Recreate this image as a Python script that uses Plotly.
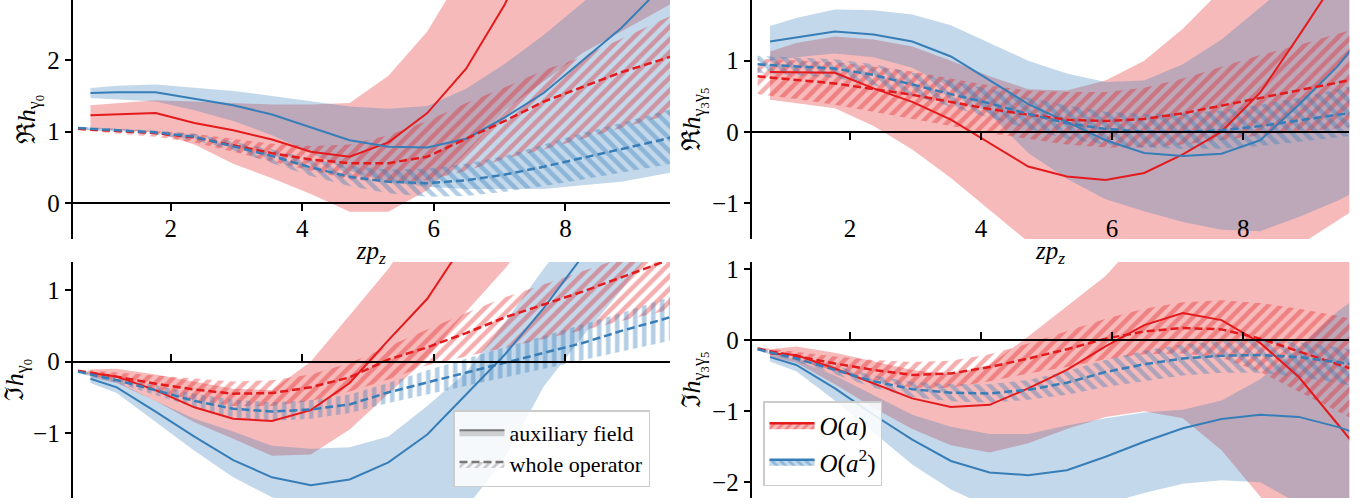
import plotly.graph_objects as go

# ---------------- data ----------------
zpz_aux = [0.78, 1.18, 1.77, 2.36, 2.95, 3.54, 4.13, 4.72, 5.31, 5.90, 6.49, 7.08, 7.67, 8.26, 8.85, 9.44, 10.03]
zpz_op = [0.59, 1.18, 1.77, 2.36, 2.95, 3.54, 4.13, 4.72, 5.31, 5.90, 6.49, 7.08, 7.67, 8.26, 8.85, 9.44, 10.03]
x_ticks = [2, 4, 6, 8]

# Re h_gamma0
re0_red_aux = [1.23, 1.24, 1.26, 1.12, 1.02, 0.89, 0.72, 0.65, 0.85, 1.26, 1.88, 2.78, 3.9, 5.2, 6.5, 8.0, 9.5]
re0_red_aux_hi = [1.37, 1.40, 1.44, 1.42, 1.40, 1.38, 1.38, 1.40, 1.78, 2.40, 3.3, 4.3, 5.5, 7.0, 8.5, 10.0, 12.0]
re0_red_aux_lo = [1.05, 1.02, 0.99, 0.82, 0.55, 0.35, 0.13, -0.12, -0.12, 0.18, 0.70, 1.30, 1.70, 2.10, 2.40, 2.70, 3.00]
re0_blue_aux = [1.54, 1.55, 1.55, 1.46, 1.37, 1.24, 1.06, 0.88, 0.79, 0.78, 0.90, 1.20, 1.54, 2.0, 2.45, 3.0, 3.6]
re0_blue_aux_hi = [1.61, 1.64, 1.66, 1.62, 1.57, 1.50, 1.42, 1.35, 1.32, 1.36, 1.60, 1.95, 2.35, 2.8, 3.3, 3.9, 4.5]
re0_blue_aux_lo = [1.47, 1.45, 1.42, 1.30, 1.15, 0.95, 0.70, 0.45, 0.30, 0.23, 0.20, 0.20, 0.20, 0.25, 0.30, 0.40, 0.50]
re0_red_op = [1.04, 1.01, 0.98, 0.92, 0.81, 0.70, 0.61, 0.56, 0.56, 0.65, 0.90, 1.15, 1.42, 1.63, 1.83, 2.00, 2.18]
re0_red_op_hi = [1.06, 1.04, 1.01, 0.97, 0.90, 0.83, 0.80, 0.82, 0.95, 1.15, 1.40, 1.62, 1.86, 2.05, 2.30, 2.55, 2.80]
re0_red_op_lo = [1.02, 0.98, 0.93, 0.85, 0.72, 0.58, 0.45, 0.33, 0.30, 0.32, 0.45, 0.62, 0.75, 0.90, 1.05, 1.20, 1.40]
re0_blue_op = [1.05, 1.02, 0.99, 0.93, 0.80, 0.66, 0.50, 0.37, 0.30, 0.28, 0.32, 0.40, 0.51, 0.63, 0.75, 0.88, 1.02]
re0_blue_op_hi = [1.07, 1.04, 1.02, 0.97, 0.86, 0.75, 0.62, 0.52, 0.47, 0.48, 0.55, 0.66, 0.82, 0.98, 1.12, 1.27, 1.42]
re0_blue_op_lo = [1.03, 1.00, 0.96, 0.88, 0.74, 0.56, 0.38, 0.24, 0.14, 0.09, 0.10, 0.16, 0.24, 0.33, 0.42, 0.52, 0.62]

# Re h_gamma3gamma5
re35_red_aux = [0.84, 0.84, 0.83, 0.61, 0.42, 0.17, -0.16, -0.49, -0.63, -0.68, -0.58, -0.32, 0.0, 0.55, 1.35, 2.2, 3.0]
re35_red_aux_hi = [1.13, 1.25, 1.34, 1.30, 1.20, 1.00, 0.78, 0.60, 0.58, 0.72, 1.00, 1.45, 2.0, 2.6, 3.2, 3.8, 4.4]
re35_red_aux_lo = [0.45, 0.40, 0.33, 0.08, -0.25, -0.65, -1.10, -1.55, -1.90, -2.10, -2.20, -2.20, -2.10, -1.90, -1.60, -1.25, -0.90]
re35_blue_aux = [1.27, 1.33, 1.41, 1.37, 1.27, 1.06, 0.73, 0.39, 0.14, -0.12, -0.30, -0.34, -0.31, -0.12, 0.38, 0.92, 1.6]
re35_blue_aux_hi = [1.49, 1.60, 1.72, 1.71, 1.65, 1.50, 1.25, 1.00, 0.82, 0.70, 0.72, 0.95, 1.30, 1.75, 2.2, 2.6, 3.0]
re35_blue_aux_lo = [1.00, 1.05, 1.10, 1.05, 0.90, 0.62, 0.25, -0.30, -0.66, -0.95, -1.12, -1.27, -1.38, -1.40, -1.20, -0.97, -0.70]
re35_red_op = [0.78, 0.73, 0.68, 0.60, 0.52, 0.42, 0.32, 0.24, 0.17, 0.15, 0.18, 0.26, 0.37, 0.48, 0.59, 0.70, 0.80]
re35_red_op_hi = [1.03, 1.00, 0.98, 0.92, 0.85, 0.75, 0.65, 0.58, 0.56, 0.56, 0.62, 0.75, 0.92, 1.08, 1.22, 1.38, 1.52]
re35_red_op_lo = [0.53, 0.46, 0.38, 0.28, 0.18, 0.08, -0.02, -0.10, -0.18, -0.22, -0.22, -0.18, -0.12, -0.05, 0.0, 0.05, 0.10]
re35_blue_op = [0.95, 0.92, 0.89, 0.80, 0.66, 0.53, 0.40, 0.25, 0.12, 0.04, 0.0, 0.0, 0.02, 0.08, 0.16, 0.24, 0.30]
re35_blue_op_hi = [1.07, 1.05, 1.02, 0.95, 0.83, 0.72, 0.60, 0.48, 0.37, 0.28, 0.25, 0.26, 0.30, 0.38, 0.48, 0.60, 0.72]
re35_blue_op_lo = [0.83, 0.80, 0.76, 0.66, 0.50, 0.35, 0.20, 0.04, -0.10, -0.18, -0.22, -0.24, -0.24, -0.20, -0.14, -0.08, -0.02]

# Im h_gamma0
im0_red_aux = [-0.16, -0.21, -0.40, -0.64, -0.80, -0.83, -0.68, -0.30, 0.30, 0.88, 1.7, 2.6, 3.5, 4.4, 5.3, 6.2, 7.1]
im0_red_aux_hi = [-0.11, -0.10, -0.18, -0.28, -0.38, -0.40, 0.0, 0.65, 1.30, 2.1, 3.0, 3.9, 4.8, 5.7, 6.6, 7.5, 8.4]
im0_red_aux_lo = [-0.22, -0.30, -0.55, -0.85, -1.08, -1.32, -1.30, -0.95, -0.45, 0.05, 0.70, 1.30, 2.0, 2.7, 3.4, 4.1, 4.8]
im0_blue_aux = [-0.24, -0.36, -0.70, -1.05, -1.38, -1.62, -1.73, -1.65, -1.41, -1.02, -0.46, 0.10, 0.75, 1.45, 2.2, 3.0, 3.8]
im0_blue_aux_hi = [-0.17, -0.28, -0.55, -0.80, -0.98, -1.18, -1.22, -1.20, -1.05, -0.62, -0.15, 0.55, 1.30, 2.0, 2.8, 3.6, 4.4]
im0_blue_aux_lo = [-0.30, -0.44, -0.85, -1.25, -1.62, -1.90, -2.05, -2.10, -2.20, -2.20, -2.05, -1.35, -0.35, 0.35, 1.0, 1.7, 2.4]
im0_red_op = [-0.13, -0.21, -0.31, -0.39, -0.45, -0.44, -0.36, -0.22, 0.03, 0.20, 0.40, 0.62, 0.80, 0.98, 1.18, 1.38, 1.58]
im0_red_op_hi = [-0.11, -0.15, -0.20, -0.24, -0.28, -0.26, -0.18, -0.02, 0.22, 0.45, 0.68, 0.90, 1.08, 1.27, 1.45, 1.62, 1.80]
im0_red_op_lo = [-0.15, -0.27, -0.42, -0.54, -0.62, -0.62, -0.55, -0.42, -0.25, -0.05, 0.08, 0.20, 0.32, 0.44, 0.57, 0.70, 0.82]
im0_blue_op = [-0.14, -0.26, -0.40, -0.55, -0.66, -0.70, -0.67, -0.60, -0.43, -0.29, -0.15, -0.01, 0.12, 0.26, 0.43, 0.58, 0.75]
im0_blue_op_hi = [-0.12, -0.22, -0.33, -0.45, -0.53, -0.57, -0.54, -0.46, -0.30, -0.12, 0.04, 0.20, 0.36, 0.52, 0.68, 0.86, 1.05]
im0_blue_op_lo = [-0.16, -0.30, -0.47, -0.64, -0.78, -0.83, -0.80, -0.72, -0.58, -0.46, -0.34, -0.22, -0.10, 0.02, 0.14, 0.26, 0.40]

# Im h_gamma3gamma5
im35_red_aux = [-0.19, -0.21, -0.40, -0.61, -0.82, -0.94, -0.91, -0.68, -0.42, -0.09, 0.21, 0.38, 0.28, -0.04, -0.52, -1.18, -1.85]
im35_red_aux_hi = [-0.13, -0.09, -0.18, -0.30, -0.42, -0.48, -0.35, 0.05, 0.47, 0.90, 1.50, 1.90, 2.20, 2.40, 2.50, 2.50, 2.50]
im35_red_aux_lo = [-0.24, -0.32, -0.62, -0.95, -1.25, -1.48, -1.58, -1.45, -1.25, -1.08, -1.00, -1.10, -1.55, -2.20, -2.80, -3.30, -3.80]
im35_blue_aux = [-0.24, -0.35, -0.68, -1.05, -1.40, -1.70, -1.86, -1.90, -1.83, -1.64, -1.43, -1.24, -1.11, -1.05, -1.08, -1.22, -1.40]
im35_blue_aux_hi = [-0.18, -0.28, -0.50, -0.78, -1.05, -1.22, -1.32, -1.32, -1.20, -1.10, -1.02, -0.98, -0.85, -0.55, -0.10, 0.40, 0.80]
im35_blue_aux_lo = [-0.30, -0.44, -0.85, -1.30, -1.75, -2.10, -2.35, -2.45, -2.45, -2.30, -2.15, -2.02, -1.97, -2.00, -2.30, -2.60, -2.90]
im35_red_op = [-0.12, -0.23, -0.33, -0.42, -0.49, -0.47, -0.38, -0.26, -0.13, 0.02, 0.12, 0.17, 0.15, 0.02, -0.16, -0.33, -0.52]
im35_red_op_hi = [-0.10, -0.17, -0.23, -0.28, -0.31, -0.29, -0.20, -0.05, 0.12, 0.30, 0.44, 0.53, 0.56, 0.52, 0.44, 0.34, 0.22]
im35_red_op_lo = [-0.14, -0.29, -0.43, -0.56, -0.67, -0.67, -0.58, -0.47, -0.38, -0.27, -0.20, -0.19, -0.25, -0.45, -0.73, -1.00, -1.28]
im35_blue_op = [-0.13, -0.26, -0.42, -0.58, -0.69, -0.74, -0.75, -0.70, -0.60, -0.45, -0.34, -0.26, -0.22, -0.21, -0.24, -0.31, -0.40]
im35_blue_op_hi = [-0.11, -0.23, -0.36, -0.50, -0.59, -0.62, -0.62, -0.56, -0.44, -0.28, -0.15, -0.06, -0.01, 0.0, -0.03, -0.10, -0.19]
im35_blue_op_lo = [-0.15, -0.30, -0.48, -0.67, -0.80, -0.86, -0.88, -0.84, -0.77, -0.66, -0.58, -0.50, -0.46, -0.46, -0.52, -0.60, -0.72]

# ---------------- style ----------------
RED = "#e41a1c"
BLUE = "#377eb8"
RED_BAND = "rgba(228,26,28,0.30)"
BLUE_BAND = "rgba(55,126,184,0.30)"
RED_HATCH = "rgba(228,26,28,0.72)"
BLUE_HATCH = "rgba(55,126,184,0.78)"
FONT = "Liberation Serif"

W, H = 1372, 504
panels = [
    dict(name="re0", row=0, col=0, yrange=[-0.50, 2.84], yticks=[0, 1, 2],
         ytitle="ℜ<i>h</i><sub>γ<sub>0</sub></sub>", top=True, blue_hatch="\\"),
    dict(name="re35", row=0, col=1, yrange=[-1.51, 1.855], yticks=[-1, 0, 1],
         ytitle="ℜ<i>h</i><sub>γ<sub>3</sub>γ<sub>5</sub></sub>", top=True, blue_hatch="\\"),
    dict(name="im0", row=1, col=0, yrange=[-1.91, 1.395], yticks=[-1, 0, 1],
         ytitle="ℑ<i>h</i><sub>γ<sub>0</sub></sub>", top=False, blue_hatch="|"),
    dict(name="im35", row=1, col=1, yrange=[-2.22, 1.097], yticks=[-2, -1, 0, 1],
         ytitle="ℑ<i>h</i><sub>γ<sub>3</sub>γ<sub>5</sub></sub>", top=False, blue_hatch="\\"),
]
xdomains = [[72.7 / W, 670.0 / W], [751.7 / W, 1349.3 / W]]
xranges = [[0.51, 9.59], [0.50, 9.62]]
ydomains = [[1 - 239.0 / H, 1.0], [1 - 498.0 / H, 1 - 262.0 / H]]
label_axis_px = 211.0  # pixel row of the bare axis carrying the top panels' tick labels

data = globals()
fig = go.Figure()
layout = {}


def band(x, lo, hi, xa, ya, fillcolor=None, pattern=None):
    xs = list(x) + list(x)[::-1]
    ys = list(hi) + list(lo)[::-1]
    kw = dict(x=xs, y=ys, mode="lines", line=dict(width=0), fill="toself",
              hoverinfo="skip", showlegend=False, xaxis=xa, yaxis=ya)
    if pattern is not None:
        kw["fillcolor"] = "rgba(0,0,0,0)"
        kw["fillpattern"] = pattern
    else:
        kw["fillcolor"] = fillcolor
    fig.add_trace(go.Scatter(**kw))


axis_font = dict(family=FONT, size=25, color="black")
for i, p in enumerate(panels):
    n = i + 1
    xa = "x" if n == 1 else f"x{n}"
    ya = "y" if n == 1 else f"y{n}"
    d = lambda k: data[f"{p['name']}_{k}"]
    band(zpz_aux, d("red_aux_lo"), d("red_aux_hi"), xa, ya, fillcolor=RED_BAND)
    band(zpz_aux, d("blue_aux_lo"), d("blue_aux_hi"), xa, ya, fillcolor=BLUE_BAND)
    band(zpz_op, d("red_op_lo"), d("red_op_hi"), xa, ya,
         pattern=dict(shape="/", fgcolor=RED_HATCH, bgcolor="rgba(0,0,0,0)", size=9, solidity=0.5))
    band(zpz_op, d("blue_op_lo"), d("blue_op_hi"), xa, ya,
         pattern=dict(shape=p["blue_hatch"], fgcolor=BLUE_HATCH, bgcolor="rgba(0,0,0,0)", size=9,
                      solidity=0.5))
    fig.add_trace(go.Scatter(x=zpz_aux, y=d("red_aux"), mode="lines", line=dict(color=RED, width=2),
                             showlegend=False, xaxis=xa, yaxis=ya))
    fig.add_trace(go.Scatter(x=zpz_aux, y=d("blue_aux"), mode="lines", line=dict(color=BLUE, width=2),
                             showlegend=False, xaxis=xa, yaxis=ya))
    fig.add_trace(go.Scatter(x=zpz_op, y=d("red_op"), mode="lines",
                             line=dict(color=RED, width=2.5, dash="8px,4px"),
                             showlegend=False, xaxis=xa, yaxis=ya))
    fig.add_trace(go.Scatter(x=zpz_op, y=d("blue_op"), mode="lines",
                             line=dict(color=BLUE, width=2.5, dash="8px,4px"),
                             showlegend=False, xaxis=xa, yaxis=ya))

    yd = ydomains[p["row"]]
    yr = p["yrange"]
    zero_pos = yd[0] + (0 - yr[0]) / (yr[1] - yr[0]) * (yd[1] - yd[0])
    xkey = "xaxis" if n == 1 else f"xaxis{n}"
    ykey = "yaxis" if n == 1 else f"yaxis{n}"
    zero_axis = dict(domain=xdomains[p["col"]], range=xranges[p["col"]], anchor="free", position=zero_pos,
                     tickvals=x_ticks, showgrid=False, zeroline=False, showline=True, linecolor="black",
                     linewidth=2, ticks="outside", ticklen=7, tickwidth=2, tickcolor="black",
                     showticklabels=False, automargin=False,
                     side="bottom" if p["top"] else "top")
    if p["top"]:
        layout[xkey] = dict(domain=xdomains[p["col"]], range=xranges[p["col"]], anchor="free",
                            position=1 - label_axis_px / H, tickvals=x_ticks, showgrid=False,
                            zeroline=False, showline=False, ticks="", showticklabels=True,
                            tickfont=axis_font, automargin=False,
                            title=dict(text="<i>zp<sub>z</sub></i>", font=axis_font, standoff=0))
        ov = n + 4
        zero_axis.update(overlaying=xa)
        layout[f"xaxis{ov}"] = zero_axis
        fig.add_trace(go.Scatter(x=[None], y=[None], xaxis=f"x{ov}", yaxis=ya, showlegend=False,
                                 hoverinfo="skip"))
    else:
        layout[xkey] = zero_axis
    layout[ykey] = dict(domain=yd, range=yr, anchor=xa, tickvals=p["yticks"], showgrid=False,
                        zeroline=False, showline=True, linecolor="black", linewidth=2, ticks="outside",
                        ticklen=6, tickwidth=2, tickcolor="black", tickfont=axis_font, automargin=False,
                        title=dict(text=p["ytitle"], font=dict(family=FONT, size=26, color="black"),
                                   standoff=4))

# legend entries
GRAY_LINE = "rgb(120,120,120)"
fig.add_trace(go.Scatter(x=[None], y=[None], mode="lines", name="auxiliary field",
                         line=dict(color=GRAY_LINE, width=2), fill="toself",
                         fillcolor="rgba(128,128,128,0.35)", legend="legend", legendgroup="g1"))
fig.add_trace(go.Scatter(x=[None], y=[None], mode="lines", name="whole operator",
                         line=dict(color=GRAY_LINE, width=2.5, dash="8px,4px"), fill="toself",
                         fillcolor="rgba(0,0,0,0)",
                         fillpattern=dict(shape="/", fgcolor="rgba(128,128,128,0.8)",
                                          bgcolor="rgba(0,0,0,0)", size=6, solidity=0.45),
                         legend="legend", legendgroup="g2"))
fig.add_trace(go.Scatter(x=[None], y=[None], mode="lines", name="<i>O</i>(<i>a</i>)",
                         line=dict(color=RED, width=2.5), fill="toself", fillcolor="rgba(0,0,0,0)",
                         fillpattern=dict(shape="/", fgcolor=RED_HATCH, bgcolor=RED_BAND, size=6,
                                          solidity=0.45),
                         legend="legend2", legendgroup="g3"))
fig.add_trace(go.Scatter(x=[None], y=[None], mode="lines", name="<i>O</i>(<i>a</i><sup>2</sup>)",
                         line=dict(color=BLUE, width=2.5), fill="toself", fillcolor="rgba(0,0,0,0)",
                         fillpattern=dict(shape="\\", fgcolor=BLUE_HATCH, bgcolor=BLUE_BAND, size=6,
                                          solidity=0.45),
                         legend="legend2", legendgroup="g4"))

legend_style = dict(bgcolor="rgba(255,255,255,0.85)", bordercolor="#cccccc", borderwidth=1.5,
                    itemwidth=45, xanchor="left", yanchor="top")
layout["legend"] = dict(x=453 / W, y=1 - 410 / H, font=dict(family=FONT, size=22, color="black"),
                        tracegroupgap=0, **legend_style)
layout["legend2"] = dict(x=763 / W, y=1 - 401 / H, font=dict(family=FONT, size=25, color="black"),
                         tracegroupgap=1, **legend_style)

fig.update_layout(**layout)
fig.update_layout(width=W, height=H, margin=dict(l=0, r=0, t=0, b=0, autoexpand=False),
                  paper_bgcolor="white", plot_bgcolor="rgba(0,0,0,0)", showlegend=True,
                  font=dict(family=FONT, size=24, color="black"))

fig.write_html("out.html", config={"displayModeBar": False},
               post_script="document.body.style.margin='0px';")
